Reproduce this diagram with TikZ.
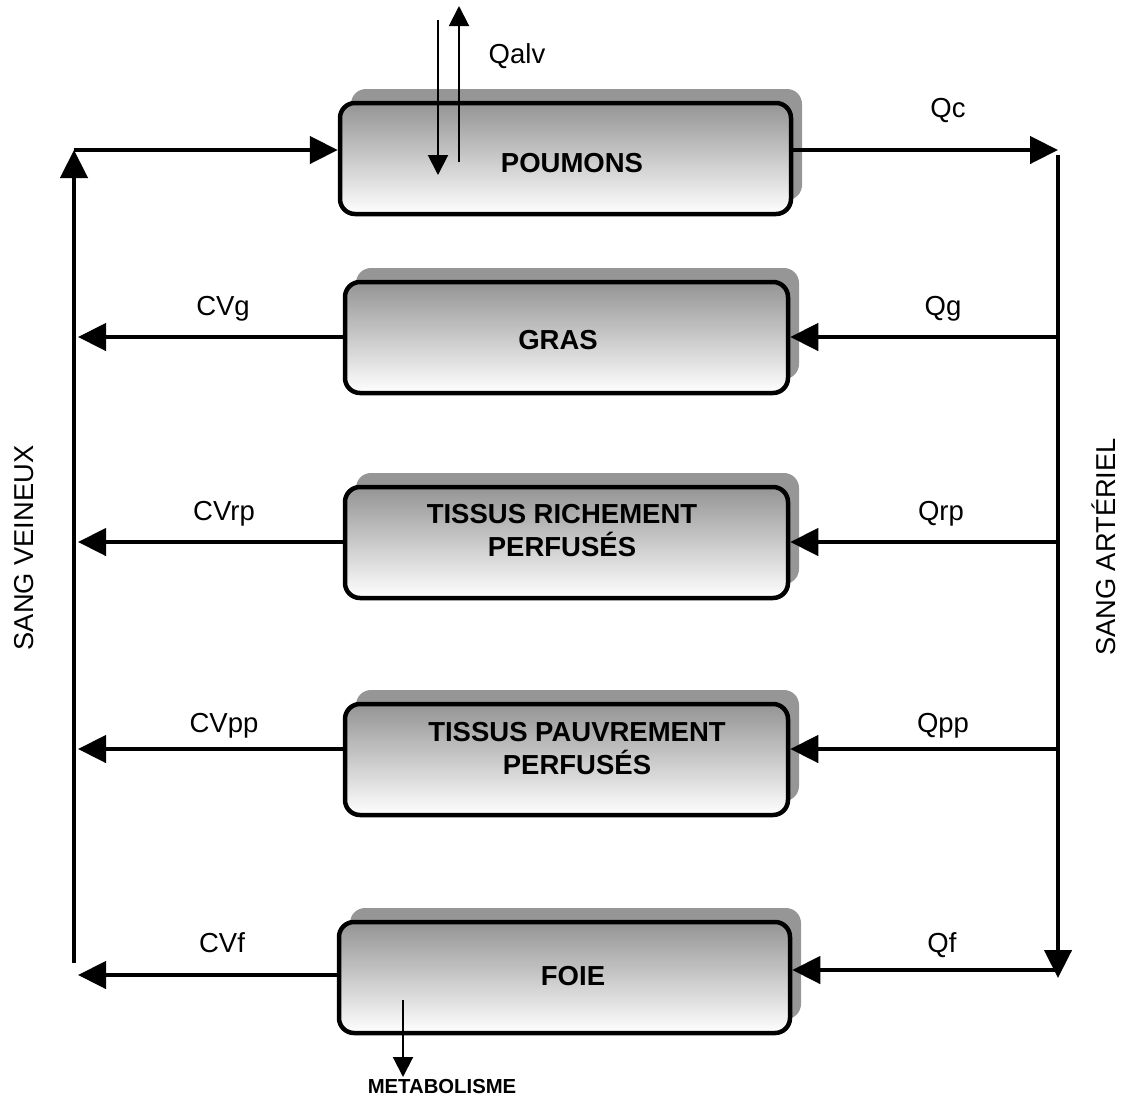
\documentclass[tikz,border=0pt]{standalone}
\usepackage{fontspec}
\setmainfont{Liberation Sans}
\usetikzlibrary{arrows.meta,shadows}
\definecolor{boxtop}{RGB}{148,148,148}
\definecolor{shad}{RGB}{150,150,150}
\begin{document}
\begin{tikzpicture}[x=1pt,y=-1pt,
  organ/.style={draw=black, line width=4.5pt, rounded corners=15pt,
    top color=boxtop, bottom color=white, minimum width=#1,
    minimum height=111pt, inner sep=0pt,
    drop shadow={shadow xshift=11pt, shadow yshift=14pt, fill=shad, opacity=1}},
  boxtxt/.style={font=\fontsize{27.5}{33}\selectfont\bfseries, inner sep=0pt},
  lbl/.style={font=\fontsize{27.5}{33}\selectfont, inner sep=0pt, anchor=base},
  flow/.style={line width=4.5pt, -{Triangle[length=28pt,width=27pt]}},
  thinflow/.style={line width=2pt, -{Triangle[length=20pt,width=20pt]}}]
\useasboundingbox (0,0) rectangle (1125,1101);

% organ boxes
\node[organ=451pt] (pou)  at (565.5,158.5) {};
\node[organ=443pt] (gras) at (566.5,337.5) {};
\node[organ=443pt] (trp)  at (566.5,542.5) {};
\node[organ=443pt] (tpp)  at (566.5,759.5) {};
\node[organ=451pt] (foie) at (564.5,977.5) {};

% box texts
\node[boxtxt] (tpou)  at (572,163.5) {POUMONS};
\node[boxtxt] (tgras) at (558,340) {GRAS};
\node[boxtxt, align=center] (ttrp) at (562,531) {TISSUS RICHEMENT\\PERFUSÉS};
\node[boxtxt, align=center] (ttpp) at (577,748.5) {TISSUS PAUVREMENT\\PERFUSÉS};
\node[boxtxt] (tfoie) at (573,976) {FOIE};

% trunk coordinates
\coordinate (vtop) at (74,150);
\coordinate (vbot) at (74,963);
\coordinate (atop) at (1058,150);
\coordinate (atop2) at (1058,155);
\coordinate (abot) at (1058,978);
\coordinate (vg)  at (78,337);
\coordinate (vrp) at (78,542);
\coordinate (vpp) at (78,749);
\coordinate (vf)  at (78,975);
\coordinate (ag)  at (1058,337);
\coordinate (arp) at (1058,542);
\coordinate (app) at (1058,749);
\coordinate (af)  at (1058,970);

% venous side
\draw[flow] (vbot) -- (vtop);
\draw[flow] (vtop) -- (vtop -| pou.west);
\draw[flow] (gras.west |- vg) -- (vg);
\draw[flow] (trp.west |- vrp) -- (vrp);
\draw[flow] (tpp.west |- vpp) -- (vpp);
\draw[flow] (foie.west |- vf) -- (vf);

% arterial side
\draw[flow] (pou.east |- atop) -- (atop);
\draw[flow] (atop2) -- (abot);
\draw[flow] (ag) -- (gras.east |- ag);
\draw[flow] (arp) -- (trp.east |- arp);
\draw[flow] (app) -- (tpp.east |- app);
\draw[flow] (af) -- (foie.east |- af);

% alveolar exchange
\coordinate (qd1) at (438,20);
\coordinate (qd2) at (438,175);
\coordinate (qu1) at (459,162);
\coordinate (qu2) at (459,6);
\draw[thinflow] (qd1) -- (qd2);
\draw[thinflow] (qu1) -- (qu2);

% metabolism
\coordinate (m1) at (403,1000);
\coordinate (m2) at (403,1077);
\draw[thinflow] (m1) -- (m2);
\node[font=\fontsize{20.3}{24}\selectfont\bfseries, inner sep=0pt, anchor=base] (met) at (442,1093) {METABOLISME};

% labels
\node[lbl] (lqalv) at (517,63) {Qalv};
\node[lbl] (lqc)   at (948,117) {Qc};
\node[lbl] (lcvg)  at (223,315) {CVg};
\node[lbl] (lqg)   at (943,315) {Qg};
\node[lbl] (lcvrp) at (224,520) {CVrp};
\node[lbl] (lqrp)  at (941,520) {Qrp};
\node[lbl] (lcvpp) at (224,732) {CVpp};
\node[lbl] (lqpp)  at (943,732) {Qpp};
\node[lbl] (lcvf)  at (222,952) {CVf};
\node[lbl] (lqf)   at (942,952) {Qf};

\node[font=\fontsize{27.3}{33}\selectfont, inner sep=0pt, rotate=90] (sv) at (24,548) {SANG VEINEUX};
\node[font=\fontsize{27.3}{33}\selectfont, inner sep=0pt, rotate=90] (sa) at (1104,547) {SANG ARTÉRIEL};
\end{tikzpicture}
\end{document}
